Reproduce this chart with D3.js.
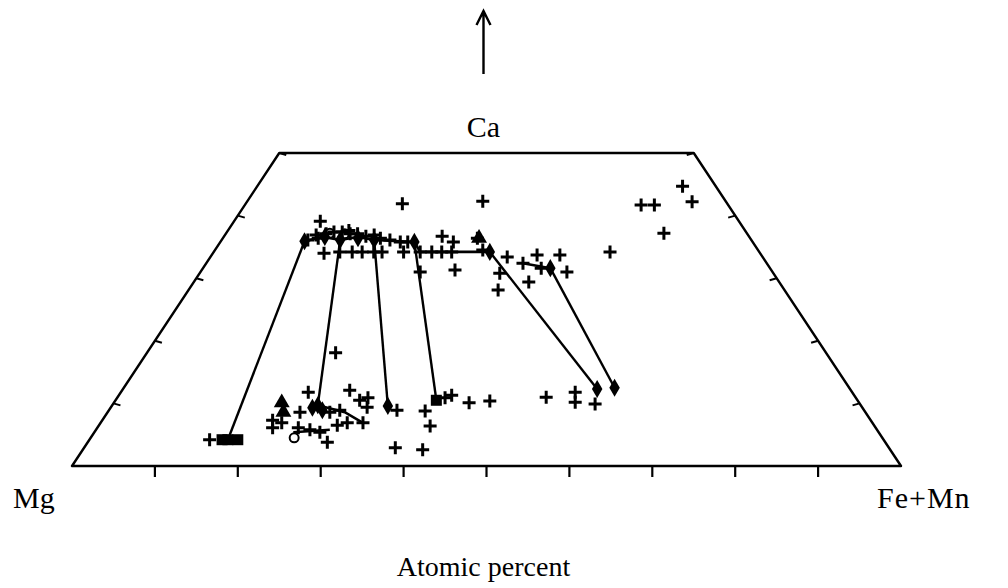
<!DOCTYPE html>
<html>
<head>
<meta charset="utf-8">
<script src="https://cdn.jsdelivr.net/npm/d3@7"></script>
<style>
  html, body { margin: 0; padding: 0; background: #fff; }
  svg { display: block; }
  text { font-family: "Liberation Serif", "Times New Roman", serif; fill: #000; }
</style>
</head>
<body>
<svg id="chart" width="1008" height="588"></svg>
<script>
// Pyroxene quadrilateral: compositions in atomic percent [Ca, Fe+Mn]; Mg = 100 - Ca - Fe.
const cornerLabels = { top: "Ca", left: "Mg", right: "Fe+Mn" };
const axisTitle = "Atomic percent";
const baseTicks = [10, 20, 30, 40, 50, 60, 70, 80, 90];
const sideTicks = [10, 20, 30, 40, 50];

// Coexisting pairs joined by tie lines (Ca-rich, Ca-poor)
const tieLines = [
  [[35.9, 10.1], [4.2, 16.7]],
  [[36.1, 14.3], [9.7, 24.8]],
  [[36.1, 18.4], [9.6, 33.3]],
  [[35.8, 23.4], [10.5, 38.7]],
  [[34.2, 33.3], [12.3, 57.2]],
  [[31.6, 41.9], [12.5, 59.2]]
];

// Zoning traces within single grains
const traces = [
  [[35.9, 10.1], [36.6, 12.0], [36.1, 14.3], [36.6, 16.2], [36.1, 18.4], [35.8, 23.4], [34.2, 24.9], [34.2, 29.7], [34.2, 33.3]],
  [[32.4, 38.2], [31.6, 41.9]],
  [[9.7, 24.8], [8.6, 28.6], [6.9, 31.65]],
  [[5.4, 24.0], [5.8, 28.2]]
];

// Individual analyses (plus signs)
const analyses = [
  [39.1, 10.4], [41.9, 18.9], [42.3, 28.4], [41.7, 47.8], [41.7, 49.4],
  [44.7, 51.3], [42.2, 53.7], [37.2, 52.8], [34.2, 47.8],
  [36.1, 10.4], [36.4, 11.5], [37.1, 12.1], [37.4, 12.9], [37.4, 13.9],
  [37.1, 15.0], [37.1, 15.9], [36.7, 17.1], [36.4, 19.0], [36.1, 20.3],
  [35.8, 21.7], [35.8, 22.6], [36.9, 11.0], [37.6, 14.6], [36.9, 18.0],
  [34.0, 13.4], [34.2, 15.2], [34.2, 16.7], [34.2, 17.9], [34.2, 19.3],
  [34.2, 20.3], [34.2, 22.9], [34.2, 24.9], [34.2, 26.3], [34.2, 27.5], [34.2, 28.7],
  [36.7, 26.3], [35.8, 28.1], [36.4, 30.7], [34.5, 32.3],
  [31.0, 26.5], [31.3, 30.55], [28.1, 37.35], [30.8, 36.2], [33.4, 35.8],
  [32.4, 38.2], [29.4, 40.4], [33.7, 39.25], [33.7, 42.0], [31.0, 44.2], [31.6, 40.8],
  [18.1, 22.75], [12.1, 27.45], [11.8, 22.6], [10.9, 30.25], [10.5, 29.45],
  [9.4, 30.9], [8.9, 34.75], [8.8, 38.2], [6.4, 40.0], [2.9, 37.55], [2.6, 41.0],
  [10.9, 39.55], [11.3, 40.15], [10.1, 42.85], [10.4, 45.2],
  [11.0, 51.7], [11.8, 54.8], [10.2, 55.6], [9.9, 58.15],
  [4.2, 14.5], [7.3, 20.55], [6.1, 21.15], [6.9, 21.85], [6.1, 24.25],
  [5.8, 25.8], [5.4, 27.2], [3.8, 28.9], [6.9, 29.75], [6.9, 31.65],
  [6.5, 28.75], [8.9, 27.85], [8.6, 26.8], [8.6, 23.2]
];

// Grain averages shown with solid symbols
const squares = [[4.2, 16.0], [4.2, 17.9], [10.5, 38.7], [4.2, 16.7]];
const triangles = [[10.1, 20.25], [8.6, 21.2], [36.4, 30.9]];
const dots = [[9.3, 24.35], [8.9, 25.75], [9.7, 24.8], [9.6, 33.3], [12.3, 57.2], [12.5, 59.2],
              [35.9, 10.1], [36.1, 14.3], [36.1, 18.4], [35.8, 23.4], [34.2, 33.3], [31.6, 41.9],
              [36.4, 16.3], [36.6, 12.2]];
const circles = [[4.5, 24.55], [37.2, 12.5], [37.1, 14.35]];

const svg = d3.select("#chart");

// Ternary mapping: Ca sets the height, Fe + Ca/2 sets the horizontal position.
const yCa = d3.scaleLinear().domain([0, 100]).range([466, -160]);
const xBase = d3.scaleLinear().domain([0, 100]).range([72, 901]);
const px = (ca, fe) => [xBase(fe + ca / 2), yCa(ca)];
const P = d => px(d[0], d[1]);

// Outline of the quadrilateral (Ca <= 50)
const outline = [px(0, 0), px(0, 100), px(50, 50), px(50, 0)];
svg.append("path")
  .attr("d", d3.line()(outline) + "Z")
  .attr("fill", "none").attr("stroke", "#000").attr("stroke-width", 2.4)
  .attr("stroke-linejoin", "round");

// Base ticks (Fe+Mn), pointing down
svg.append("g").selectAll("line").data(baseTicks).join("line")
  .attr("x1", d => px(0, d)[0]).attr("x2", d => px(0, d)[0])
  .attr("y1", yCa(0)).attr("y2", yCa(0) + 11)
  .attr("stroke", "#000").attr("stroke-width", 2.2);

// Side ticks (Ca), pointing into the diagram
const g = svg.append("g");
g.selectAll(".lt").data(sideTicks).join("line")
  .attr("x1", d => px(d, 0)[0]).attr("x2", d => px(d, 0)[0] + 7)
  .attr("y1", d => px(d, 0)[1]).attr("y2", d => px(d, 0)[1] + 2)
  .attr("stroke", "#000").attr("stroke-width", 2);
g.selectAll(".rt").data(sideTicks).join("line")
  .attr("x1", d => px(d, 100 - d)[0]).attr("x2", d => px(d, 100 - d)[0] - 7)
  .attr("y1", d => px(d, 100 - d)[1]).attr("y2", d => px(d, 100 - d)[1] + 2)
  .attr("stroke", "#000").attr("stroke-width", 2);

// Tie lines and traces
const line = d3.line().x(d => P(d)[0]).y(d => P(d)[1]);
svg.append("g").selectAll("path").data(tieLines).join("path")
  .attr("d", line).attr("fill", "none").attr("stroke", "#000").attr("stroke-width", 2.4);
svg.append("g").selectAll("path").data(traces).join("path")
  .attr("d", line).attr("fill", "none").attr("stroke", "#000").attr("stroke-width", 2.6);

// Plus signs
const s = 6.5;
svg.append("g").selectAll("path").data(analyses).join("path")
  .attr("d", d => { const [x, y] = P(d); return `M${x - s},${y}H${x + s}M${x},${y - s}V${y + s}`; })
  .attr("stroke", "#000").attr("stroke-width", 3).attr("fill", "none");

// Solid symbols
svg.append("g").selectAll("rect").data(squares).join("rect")
  .attr("x", d => P(d)[0] - 5.5).attr("y", d => P(d)[1] - 5.5)
  .attr("width", 11).attr("height", 11).attr("fill", "#000");
svg.append("g").selectAll("path").data(triangles).join("path")
  .attr("d", d3.symbol().type(d3.symbolTriangle).size(110))
  .attr("transform", d => `translate(${P(d)[0]},${P(d)[1]})`).attr("fill", "#000");
svg.append("g").selectAll("path").data(dots).join("path")
  .attr("d", d3.symbol().type(d3.symbolDiamond).size(95))
  .attr("transform", d => `translate(${P(d)[0]},${P(d)[1]})`).attr("fill", "#000");
svg.append("g").selectAll("circle").data(circles).join("circle")
  .attr("cx", d => P(d)[0]).attr("cy", d => P(d)[1]).attr("r", 4.5)
  .attr("fill", "none").attr("stroke", "#000").attr("stroke-width", 2);

// Arrow toward the Ca apex
const ax = xBase(50) - 3;
svg.append("path")
  .attr("d", `M${ax},74V12M${ax - 7},25L${ax},11L${ax + 7},25`)
  .attr("fill", "none").attr("stroke", "#000").attr("stroke-width", 2.4);

// Labels
svg.append("text").attr("x", ax).attr("y", 137).attr("text-anchor", "middle")
  .attr("font-size", 30).text(cornerLabels.top);
svg.append("text").attr("x", 13).attr("y", 508)
  .attr("font-size", 30).text(cornerLabels.left);
svg.append("text").attr("x", 877).attr("y", 508)
  .attr("font-size", 30).attr("letter-spacing", 1).text(cornerLabels.right);
svg.append("text").attr("x", ax).attr("y", 576).attr("text-anchor", "middle")
  .attr("font-size", 28).text(axisTitle);
</script>
</body>
</html>
